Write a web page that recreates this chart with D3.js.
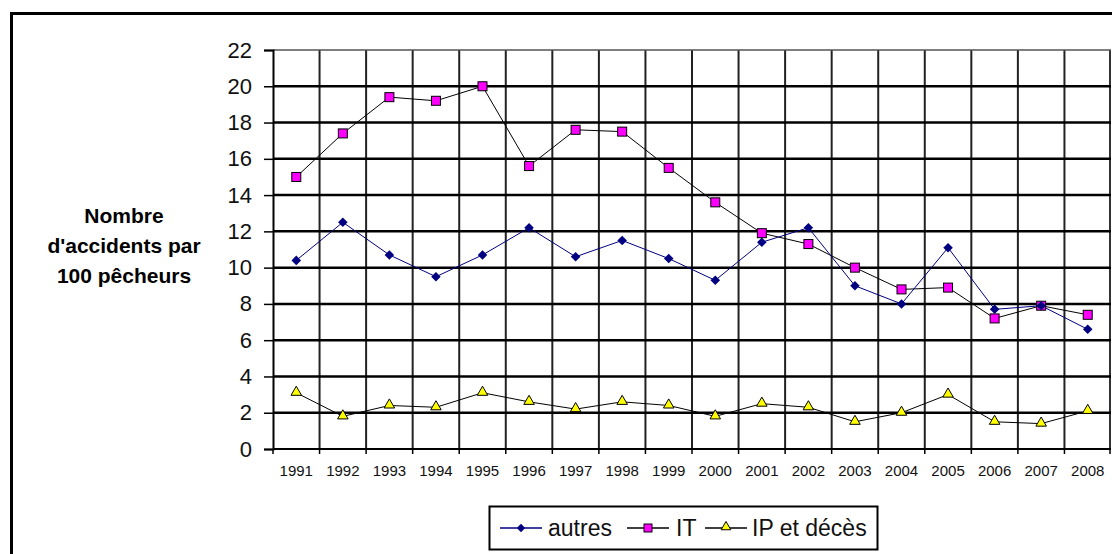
<!DOCTYPE html>
<html><head><meta charset="utf-8">
<script src="https://cdn.jsdelivr.net/npm/d3@7"></script>
<style>html,body{margin:0;padding:0;background:#fff;overflow:hidden}svg{display:block;font-family:"Liberation Sans",Arial,sans-serif}</style>
</head><body>
<svg id="c" width="1112" height="554"></svg>
<script>
const years = ["1991","1992","1993","1994","1995","1996","1997","1998","1999","2000","2001","2002","2003","2004","2005","2006","2007","2008"];
const autres = [10.4,12.5,10.7,9.5,10.7,12.2,10.6,11.5,10.5,9.3,11.4,12.2,9.0,8.0,11.1,7.7,7.9,6.6];
const IT = [15.0,17.4,19.4,19.2,20.0,15.6,17.6,17.5,15.5,13.6,11.9,11.3,10.0,8.8,8.9,7.2,7.9,7.4];
const IPdeces = [3.1,1.8,2.4,2.3,3.1,2.6,2.2,2.6,2.4,1.8,2.5,2.3,1.5,2.0,3.0,1.5,1.4,2.1];
const yTicks = [0,2,4,6,8,10,12,14,16,18,20,22];
const seriesNames = ["autres","IT","IP et décès"];
const yTitle = ["Nombre","d'accidents par","100 pêcheurs"];

const svg = d3.select("#c");
const L = 273, R = 1111, T = 50, B = 449;
const x = d3.scaleBand().domain(years).range([L, R]);
const y = d3.scaleLinear().domain([0, 22]).range([B, T]);

// outer frame
svg.append("rect").attr("x", 11.5).attr("y", 13.5).attr("width", 1200).attr("height", 700)
  .attr("fill", "none").attr("stroke", "#000").attr("stroke-width", 3);

// vertical grid lines
const g = svg.append("g");
years.forEach((yr, i) => {
  if (i === 0) return;
  g.append("line").attr("x1", x(yr)).attr("x2", x(yr)).attr("y1", T).attr("y2", B)
    .attr("stroke", "#222").attr("stroke-width", 2);
});
g.append("line").attr("x1", R - 1).attr("x2", R - 1).attr("y1", T).attr("y2", B)
  .attr("stroke", "#333").attr("stroke-width", 2);

// horizontal grid lines
yTicks.forEach(t => {
  if (t === 0) return;
  g.append("line").attr("x1", L).attr("x2", R).attr("y1", y(t)).attr("y2", y(t))
    .attr("stroke", t === 22 ? "#555" : "#000").attr("stroke-width", t === 22 ? 1.5 : 2.5);
});

// y axis
const yAxis = d3.axisLeft(y).tickValues(yTicks).tickSize(9).tickPadding(12).tickFormat(d3.format("d"));
const ya = svg.append("g").attr("transform", `translate(${L},0)`).call(yAxis);
ya.select(".domain").attr("stroke", "#000").attr("stroke-width", 2);
ya.selectAll(".tick line").attr("stroke", "#000").attr("stroke-width", 1.5);
ya.selectAll(".tick text").attr("font-size", 22).attr("fill", "#111")
  .attr("font-family", '"Liberation Sans",Arial,sans-serif');

// x axis
const xAxis = d3.axisBottom(x).tickSize(0).tickPadding(16);
const xa = svg.append("g").attr("transform", `translate(0,${B})`).call(xAxis);
xa.select(".domain").remove();
xa.selectAll(".tick text").attr("font-size", 15).attr("fill", "#111")
  .attr("font-family", '"Liberation Sans",Arial,sans-serif');
svg.append("line").attr("x1", L).attr("x2", R).attr("y1", B).attr("y2", B)
  .attr("stroke", "#000").attr("stroke-width", 2);
years.forEach((yr, i) => {
  svg.append("line").attr("x1", x(yr)).attr("x2", x(yr)).attr("y1", B).attr("y2", B + 5)
    .attr("stroke", "#000").attr("stroke-width", 1.5);
});
svg.append("line").attr("x1", R - 1).attr("x2", R - 1).attr("y1", B).attr("y2", B + 5)
  .attr("stroke", "#000").attr("stroke-width", 1.5);

// y title
const tt = svg.append("text").attr("text-anchor", "middle").attr("font-weight", "bold")
  .attr("font-size", 21).attr("fill", "#000");
yTitle.forEach((s, i) => tt.append("tspan").attr("x", 124).attr("y", 223 + i * 30).text(s));

// series
const cx = d => x(d) + x.bandwidth() / 2;
const line = d3.line().x((d, i) => cx(years[i])).y(d => y(d));
const symDiamond = d3.symbol().type(d3.symbolDiamond2).size(58);
const symTri = d3.symbol().type(d3.symbolTriangle).size(48);

svg.append("path").datum(IPdeces).attr("d", line).attr("fill", "none").attr("stroke", "#000").attr("stroke-width", 1);
svg.append("path").datum(IT).attr("d", line).attr("fill", "none").attr("stroke", "#000").attr("stroke-width", 1);
svg.append("path").datum(autres).attr("d", line).attr("fill", "none").attr("stroke", "#000080").attr("stroke-width", 1);

svg.append("g").selectAll("path").data(IPdeces).join("path")
  .attr("d", symTri).attr("transform", (d, i) => `translate(${cx(years[i])},${y(d) - 0.5})`)
  .attr("fill", "#ffff00").attr("stroke", "#000").attr("stroke-width", 1);
svg.append("g").selectAll("rect").data(IT).join("rect")
  .attr("x", (d, i) => cx(years[i]) - 4.5).attr("y", d => y(d) - 4.5).attr("width", 9).attr("height", 9)
  .attr("fill", "#ff00ff").attr("stroke", "#000").attr("stroke-width", 1);
svg.append("g").selectAll("path").data(autres).join("path")
  .attr("d", symDiamond).attr("transform", (d, i) => `translate(${cx(years[i])},${y(d)})`)
  .attr("fill", "#000080");

// legend
const lg = svg.append("g");
lg.append("rect").attr("x", 489.5).attr("y", 506.5).attr("width", 388).attr("height", 43)
  .attr("fill", "#fff").attr("stroke", "#000").attr("stroke-width", 2);
const items = [
  {name: seriesNames[0], x0: 500, tx: 548, color: "#000080", m: "d"},
  {name: seriesNames[1], x0: 627, tx: 676, color: "#000", m: "s"},
  {name: seriesNames[2], x0: 705, tx: 752, color: "#000", m: "t"}
];
const ly = 528;
items.forEach(it => {
  lg.append("line").attr("x1", it.x0).attr("x2", it.x0 + 42).attr("y1", ly).attr("y2", ly)
    .attr("stroke", it.color).attr("stroke-width", 1.5);
  const mx = it.x0 + 21;
  if (it.m === "d") lg.append("path").attr("d", d3.symbol().type(d3.symbolDiamond2).size(45)).attr("transform", `translate(${mx},${ly})`).attr("fill", "#000080");
  if (it.m === "s") lg.append("rect").attr("x", mx - 4).attr("y", ly - 4).attr("width", 8).attr("height", 8).attr("fill", "#ff00ff").attr("stroke", "#000");
  if (it.m === "t") lg.append("path").attr("d", d3.symbol().type(d3.symbolTriangle).size(40)).attr("transform", `translate(${mx},${ly - 1})`).attr("fill", "#ffff00").attr("stroke", "#000");
  lg.append("text").attr("x", it.tx).attr("y", ly + 8).attr("font-size", 23).attr("fill", "#111").text(it.name);
});
</script>
</body></html>
